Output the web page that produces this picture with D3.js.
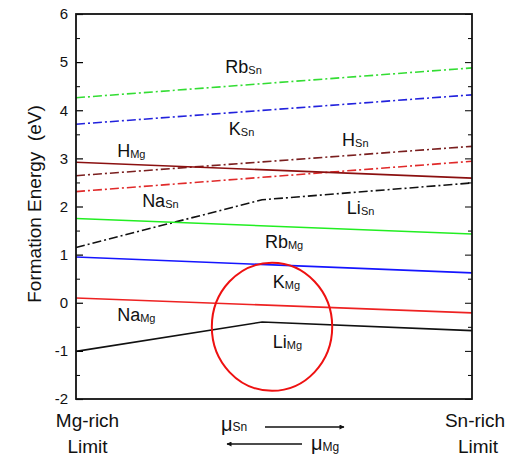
<!DOCTYPE html>
<html>
<head>
<meta charset="utf-8">
<script src="https://cdn.jsdelivr.net/npm/d3@7"></script>
<style>
  body { margin: 0; background: #fff; }
  text { font-family: "Liberation Sans", Arial, sans-serif; fill: #111; }
</style>
</head>
<body>
<div id="chart"></div>
<script>
// chemical potential axis: 0 = Mg-rich limit, 1 = Sn-rich limit
var xEnds = [0, 1];
var xKink = [0, 0.47, 1];

// formation energies (eV)
var RbSn = [4.26, 4.88];
var KSn = [3.71, 4.32];
var HSn = [2.64, 3.25];
var NaSn = [2.31, 2.94];
var LiSn = [1.15, 2.14, 2.49];
var HMg = [2.92, 2.59];
var RbMg = [1.75, 1.43];
var KMg = [0.95, 0.62];
var NaMg = [0.10, -0.21];
var LiMg = [-1.01, -0.40, -0.58];

var yTicks = [-2, -1, 0, 1, 2, 3, 4, 5, 6];

// set the dimensions of the graph
var W = 517, H = 456;
var pLeft = 76, pRight = 472, pTop = 14, pBottom = 399;

var svg = d3.select("#chart")
    .append("svg")
    .attr("width", W)
    .attr("height", H);

var x = d3.scaleLinear().domain([0, 1]).range([pLeft, pRight]);
var y = d3.scaleLinear().domain([-2, 6]).range([pBottom, pTop]);

var dashDot = "9,3,2,3";

var series = [
    { xs: xEnds, ys: RbSn, color: "#33dd33", dash: dashDot },
    { xs: xEnds, ys: KSn, color: "#2222dd", dash: dashDot },
    { xs: xEnds, ys: HSn, color: "#7a1f1f", dash: dashDot },
    { xs: xEnds, ys: NaSn, color: "#e02a2a", dash: dashDot },
    { xs: xKink, ys: LiSn, color: "#111111", dash: dashDot },
    { xs: xEnds, ys: HMg, color: "#8b1010", dash: null },
    { xs: xEnds, ys: RbMg, color: "#22ee22", dash: null },
    { xs: xEnds, ys: KMg, color: "#1515ff", dash: null },
    { xs: xEnds, ys: NaMg, color: "#ee2222", dash: null },
    { xs: xKink, ys: LiMg, color: "#111111", dash: null }
];

var line = d3.line()
    .x(function (d) { return x(d[0]); })
    .y(function (d) { return y(d[1]); });

series.forEach(function (s) {
    svg.append("path")
        .datum(d3.zip(s.xs, s.ys))
        .attr("fill", "none")
        .attr("stroke", s.color)
        .attr("stroke-width", 1.6)
        .attr("stroke-dasharray", s.dash)
        .attr("d", line);
});

// left axis, ticks inside
var yAxisL = svg.append("g")
    .attr("transform", "translate(" + pLeft + ",0)")
    .call(d3.axisLeft(y).tickValues(yTicks).tickSize(-7).tickPadding(8)
        .tickFormat(function (d) { return String(d); }));
yAxisL.select(".domain").remove();
yAxisL.selectAll("text").style("font-size", "15px").style("font-family", "Liberation Sans, Arial, sans-serif");
yAxisL.selectAll("line").attr("stroke-width", 1.2);

var minor = d3.range(-1.5, 6, 1);
svg.append("g")
    .attr("transform", "translate(" + pLeft + ",0)")
    .call(d3.axisLeft(y).tickValues(minor).tickSize(-4).tickFormat(""))
    .call(function (g) { g.select(".domain").remove(); });

// right axis, ticks inside, no labels
svg.append("g")
    .attr("transform", "translate(" + pRight + ",0)")
    .call(d3.axisRight(y).tickValues(yTicks).tickSize(-7).tickFormat(""))
    .call(function (g) { g.select(".domain").remove(); });
svg.append("g")
    .attr("transform", "translate(" + pRight + ",0)")
    .call(d3.axisRight(y).tickValues(minor).tickSize(-4).tickFormat(""))
    .call(function (g) { g.select(".domain").remove(); });

// frame
svg.append("rect")
    .attr("x", pLeft).attr("y", pTop)
    .attr("width", pRight - pLeft).attr("height", pBottom - pTop)
    .attr("fill", "none")
    .attr("stroke", "#111")
    .attr("stroke-width", 1.8);

// y label
svg.append("text")
    .attr("transform", "translate(41,204) rotate(-90)")
    .attr("text-anchor", "middle")
    .style("font-size", "19px")
    .style("white-space", "pre")
    .text("Formation Energy  (eV)");

// series labels
var labels = [
    ["Rb", "Sn", 0.377, 4.77],
    ["K", "Sn", 0.386, 3.49],
    ["H", "Sn", 0.672, 3.26],
    ["H", "Mg", 0.104, 3.03],
    ["Na", "Sn", 0.167, 1.99],
    ["Li", "Sn", 0.684, 1.84],
    ["Rb", "Mg", 0.477, 1.14],
    ["K", "Mg", 0.497, 0.31],
    ["Na", "Mg", 0.104, -0.38],
    ["Li", "Mg", 0.497, -0.94]
];

labels.forEach(function (l) {
    var t = svg.append("text")
        .attr("x", x(l[2]))
        .attr("y", y(l[3]))
        .style("font-size", "18px");
    t.append("tspan").text(l[0]);
    t.append("tspan").attr("dy", 1).style("font-size", "11px").text(l[1]);
});

// highlight circle
svg.append("ellipse")
    .attr("cx", x(0.495))
    .attr("cy", y(-0.5))
    .attr("rx", x(0.495 + 0.152) - x(0.495))
    .attr("ry", y(-0.5) - y(0.83))
    .attr("fill", "none")
    .attr("stroke", "#ee1111")
    .attr("stroke-width", 2);

// bottom labels
function addText(tx, ty, str, anchor) {
    svg.append("text")
        .attr("x", tx).attr("y", ty)
        .attr("text-anchor", anchor || "middle")
        .style("font-size", "19px")
        .text(str);
}
addText(87.5, 427, "Mg-rich");
addText(87.5, 453, "Limit");
addText(475, 427, "Sn-rich");
addText(478, 453, "Limit");

// chemical potential arrows
var defs = svg.append("defs");
defs.append("marker")
    .attr("id", "arr")
    .attr("viewBox", "0 0 10 10")
    .attr("refX", 9).attr("refY", 5)
    .attr("markerWidth", 8).attr("markerHeight", 5)
    .attr("markerUnits", "userSpaceOnUse")
    .attr("orient", "auto")
    .append("path")
    .attr("d", "M0,0L10,5L0,10Z")
    .attr("fill", "#111");

svg.append("line")
    .attr("x1", 265).attr("y1", 427).attr("x2", 344).attr("y2", 427)
    .attr("stroke", "#111").attr("stroke-width", 1.3)
    .attr("marker-end", "url(#arr)");
svg.append("line")
    .attr("x1", 302).attr("y1", 444).attr("x2", 227).attr("y2", 444)
    .attr("stroke", "#111").attr("stroke-width", 1.3)
    .attr("marker-end", "url(#arr)");

var mu1 = svg.append("text").attr("x", 221).attr("y", 431).style("font-size", "20px");
mu1.append("tspan").text("μ");
mu1.append("tspan").attr("dy", 0).style("font-size", "12px").text("Sn");
var mu2 = svg.append("text").attr("x", 311).attr("y", 450).style("font-size", "20px");
mu2.append("tspan").text("μ");
mu2.append("tspan").attr("dy", 1).style("font-size", "12px").text("Mg");
</script>
</body>
</html>
